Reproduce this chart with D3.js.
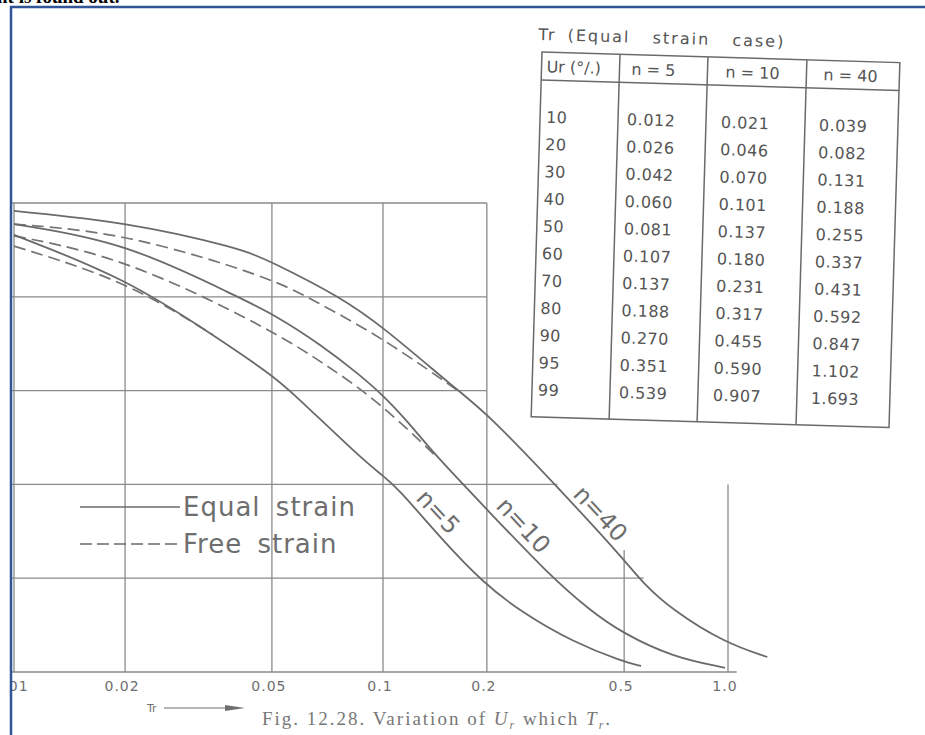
<!DOCTYPE html>
<html>
<head>
<meta charset="utf-8">
<script src="https://cdn.jsdelivr.net/npm/d3@7"></script>
<style>
body { margin: 0; background: #fff; }
svg { display: block; }
</style>
</head>
<body>
<script>
var trTicks = [0.01, 0.02, 0.05, 0.1, 0.2, 0.5, 1.0]
var trTickLabels = ["0.01", "0.02", "0.05", "0.1", "0.2", "0.5", "1.0"]
var trGridFrom = [0, 0, 0, 0, 0, 74, 60]
var urGrid = [0, 20, 40, 60, 80, 100]
var urGridTo = [0.2, 0.2, 0.2, 0.32, 0.57, 1.06]

// [Tr, Ur %]
var equal5 = [[0.01, 6.8], [0.02, 16.0], [0.0346, 28.1], [0.05, 36.7], [0.0559, 39.9], [0.0866, 54.2],
              [0.1, 58.2], [0.1098, 60.6], [0.146, 71.2], [0.195, 81], [0.254, 87.4], [0.355, 93.6],
              [0.5, 97.9], [0.56, 98.7]]
var equal10 = [[0.01, 4.5], [0.02, 8.3], [0.041, 20.3], [0.05, 23.5], [0.0688, 30.5], [0.0866, 36.7],
               [0.1, 41], [0.117, 46.3], [0.1434, 54.2], [0.2, 65.3], [0.3, 79.0], [0.4, 87.0],
               [0.495, 91.7], [0.69, 96.8], [0.98, 99.1]]
var equal40 = [[0.01, 1.7], [0.02, 4.0], [0.041, 9.6], [0.05, 12.6], [0.0765, 20.0], [0.1, 26.4],
               [0.164, 39.9], [0.2, 44.8], [0.321, 60.6], [0.5, 76], [0.566, 81], [0.69, 86.8],
               [0.98, 93.8], [1.3, 96.8]]
var free5 = [[0.01, 9.2], [0.02, 16.5], [0.0346, 28.1]]
var free10 = [[0.01, 7.0], [0.02, 11.7], [0.05, 27.1], [0.0688, 34.1], [0.0963, 42.0], [0.1434, 54.2]]
var free40 = [[0.01, 4.5], [0.02, 6.4], [0.05, 16.0], [0.0646, 20.7], [0.1, 28.8], [0.164, 39.9]]

var curveNames = ["n=5", "n=10", "n=40"]
var curveLabelAt = [[0.1238, 63.1], [0.211, 64.8], [0.353, 62.3]]
var legendLabels = ["Equal strain", "Free strain"]

var tableTitle = "Tr (Equal  strain  case)"
var tableHead = ["Ur (°/.)", "n = 5", "n = 10", "n = 40"]
var tableUr = ["10", "20", "30", "40", "50", "60", "70", "80", "90", "95", "99"]
var tableN5 = ["0.012", "0.026", "0.042", "0.060", "0.081", "0.107", "0.137", "0.188", "0.270", "0.351", "0.539"]
var tableN10 = ["0.021", "0.046", "0.070", "0.101", "0.137", "0.180", "0.231", "0.317", "0.455", "0.590", "0.907"]
var tableN40 = ["0.039", "0.082", "0.131", "0.188", "0.255", "0.337", "0.431", "0.592", "0.847", "1.102", "1.693"]

var ink = "#6e6e6e"
var font = "'DejaVu Sans', sans-serif"

var svg = d3.select("body").append("svg")
  .attr("width", 925)
  .attr("height", 735)

svg.append("rect").attr("width", 925).attr("height", 735).attr("fill", "#fff")

svg.append("defs").append("clipPath").attr("id", "page")
  .append("rect").attr("x", 12).attr("y", 8).attr("width", 913).attr("height", 727)

svg.append("text")
  .text("nt is found out.")
  .attr("x", -3).attr("y", 3)
  .attr("font-family", "'Liberation Serif', serif")
  .attr("font-weight", "bold")
  .attr("font-size", "19px")

var page = svg.append("g").attr("clip-path", "url(#page)")

var x = d3.scaleLog().domain([0.01, 0.1, 1]).range([14, 383, 728])
var y = d3.scaleLinear().domain([0, 100]).range([203, 672])

var grid = page.append("g")
  .attr("stroke", "#8a8a8a")
  .attr("stroke-width", 1.3)

grid.selectAll(".h").data(urGrid).enter()
  .append("line").attr("class", "h")
  .attr("x1", x(0.01) - 2)
  .attr("x2", function(d, i) { return x(urGridTo[i]) })
  .attr("y1", function(d) { return y(d) })
  .attr("y2", function(d) { return y(d) })

grid.selectAll(".v").data(trTicks).enter()
  .append("line").attr("class", "v")
  .attr("x1", function(d) { return x(d) })
  .attr("x2", function(d) { return x(d) })
  .attr("y1", function(d, i) { return y(trGridFrom[i]) })
  .attr("y2", y(100))

page.selectAll(".tick").data(trTicks).enter()
  .append("text").attr("class", "tick")
  .text(function(d, i) { return trTickLabels[i] })
  .attr("x", function(d) { return x(d) - 3 })
  .attr("y", y(100) + 19)
  .attr("text-anchor", "middle")
  .attr("font-family", font)
  .attr("font-size", "14px")
  .attr("letter-spacing", "1px")
  .attr("fill", ink)

var line = d3.line()
  .x(function(d) { return x(d[0]) })
  .y(function(d) { return y(d[1]) })
  .curve(d3.curveBasis)

page.selectAll(".free").data([free5, free10, free40]).enter()
  .append("path").attr("class", "free")
  .attr("d", line)
  .attr("fill", "none")
  .attr("stroke", "#747474")
  .attr("stroke-width", 1.7)
  .attr("stroke-dasharray", "12,6")

page.selectAll(".equal").data([equal5, equal10, equal40]).enter()
  .append("path").attr("class", "equal")
  .attr("d", line)
  .attr("fill", "none")
  .attr("stroke", "#6a6a6a")
  .attr("stroke-width", 1.8)

page.selectAll(".cname").data(curveNames).enter()
  .append("text").attr("class", "cname")
  .text(function(d) { return d })
  .attr("transform", function(d, i) {
    return "translate(" + x(curveLabelAt[i][0]) + "," + y(curveLabelAt[i][1]) + ") rotate(47)"
  })
  .attr("font-family", font)
  .attr("font-size", "24px")
  .attr("fill", ink)

var legend = page.append("g").attr("transform", "translate(80,507)")
legend.selectAll("line").data(legendLabels).enter()
  .append("line")
  .attr("x1", 0).attr("x2", 100)
  .attr("y1", function(d, i) { return i * 37 })
  .attr("y2", function(d, i) { return i * 37 })
  .attr("stroke", "#6a6a6a")
  .attr("stroke-width", 1.6)
  .attr("stroke-dasharray", function(d, i) { return i ? "12,5" : null })
legend.selectAll("text").data(legendLabels).enter()
  .append("text")
  .text(function(d) { return d })
  .attr("x", 103)
  .attr("y", function(d, i) { return i * 37 + 9 })
  .attr("font-family", font)
  .attr("font-size", "26px")
  .attr("letter-spacing", "1px")
  .attr("word-spacing", "6px")
  .attr("fill", ink)

var axisName = page.append("g").attr("transform", "translate(147,712)")
axisName.append("text").text("Tr")
  .attr("font-family", font).attr("font-size", "11px").attr("fill", ink)
axisName.append("line")
  .attr("x1", 17).attr("x2", 80).attr("y1", -4).attr("y2", -4)
  .attr("stroke", ink).attr("stroke-width", 1.2)
axisName.append("path")
  .attr("d", "M78,-7 L98,-4 L78,-1 Z")
  .attr("fill", ink)

var caption = page.append("text")
  .attr("x", 262).attr("y", 725)
  .attr("font-family", "'Liberation Serif', serif")
  .attr("font-size", "19px")
  .attr("letter-spacing", "2px")
  .attr("fill", "#777")
caption.append("tspan").text("Fig. 12.28. Variation of ")
caption.append("tspan").text("U").attr("font-style", "italic")
caption.append("tspan").text("r").attr("font-style", "italic").attr("font-size", "12px").attr("dy", 4)
caption.append("tspan").text(" which ").attr("dy", -4)
caption.append("tspan").text("T").attr("font-style", "italic")
caption.append("tspan").text("r").attr("font-style", "italic").attr("font-size", "12px").attr("dy", 4)
caption.append("tspan").text(".").attr("dy", -4)

var colX = [0, 78, 166, 265, 358]
var textX = [6, 87, 181, 279]
var rowY = d3.scaleLinear().domain([0, 10]).range([70.5, 343.5])

var table = page.append("g").attr("transform", "translate(542,52) rotate(1.7)")

table.append("text")
  .text(tableTitle)
  .attr("x", -4).attr("y", -12)
  .attr("font-family", font)
  .attr("font-size", "16px")
  .attr("letter-spacing", "2px")
  .attr("word-spacing", "4px")
  .style("white-space", "pre")
  .attr("fill", "#555")

var tg = table.append("g").attr("stroke", "#6a6a6a").attr("stroke-width", 1.5).attr("fill", "none")
tg.append("rect").attr("x", 0).attr("y", 0).attr("width", colX[4]).attr("height", 365)
tg.append("line").attr("x1", 0).attr("x2", colX[4]).attr("y1", 28).attr("y2", 28)
tg.selectAll(".col").data(colX.slice(1, 4)).enter()
  .append("line").attr("class", "col")
  .attr("x1", function(d) { return d }).attr("x2", function(d) { return d })
  .attr("y1", 0).attr("y2", 365)

table.selectAll(".head").data(tableHead).enter()
  .append("text").attr("class", "head")
  .text(function(d) { return d })
  .attr("x", function(d, i) { return textX[i] + (i ? 3 : -1) })
  .attr("y", 20)
  .attr("font-family", font)
  .attr("font-size", "16px")
  .style("white-space", "pre")
  .attr("fill", "#555")

var columns = [tableUr, tableN5, tableN10, tableN40]
columns.forEach(function(col, c) {
  table.selectAll(".c" + c).data(col).enter()
    .append("text").attr("class", "c" + c)
    .text(function(d) { return d })
    .attr("x", textX[c])
    .attr("y", function(d, i) { return rowY(i) })
    .attr("font-family", font)
    .attr("font-size", "16px")
    .attr("letter-spacing", "0.5px")
    .attr("fill", "#555")
})

svg.append("path")
  .attr("d", "M11,735 V7 H925")
  .attr("fill", "none")
  .attr("stroke", "#2f5597")
  .attr("stroke-width", 2.5)
</script>
</body>
</html>
